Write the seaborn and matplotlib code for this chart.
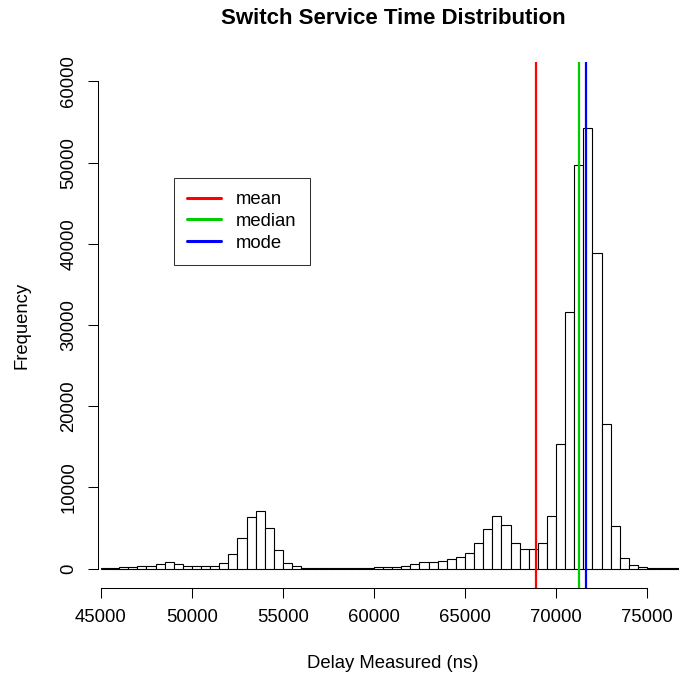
import numpy as np
import pandas as pd
import matplotlib
matplotlib.use("Agg")
import matplotlib.pyplot as plt
import seaborn as sns

# histogram counts per 500 ns bin, first bin starts at 45000 ns
bin_start = 45000
bin_width = 500
counts = [60, 120, 150, 200, 250, 330, 570, 780, 610, 370,
          330, 330, 370, 740, 1780, 3760, 6370, 7090, 4990, 2240,
          720, 250, 120, 100, 90, 90, 100, 100, 110, 120,
          130, 150, 200, 350, 580, 780, 780, 985, 1150, 1400,
          1970, 3200, 4850, 6450, 5380, 3160, 2380, 2380, 3120, 6530,
          15360, 31600, 49650, 54330, 38850, 17800, 5230, 1290, 400, 180,
          100, 70, 50, 40]

stat_names = ["mean", "median", "mode"]
stat_values = [68885, 71265, 71665]
stat_colors = ["#FF0000", "#00CD00", "#0000FF"]

x_ticks = [45000, 50000, 55000, 60000, 65000, 70000, 75000]
y_ticks = [0, 10000, 20000, 30000, 40000, 50000, 60000]

edges = bin_start + bin_width * np.arange(len(counts) + 1)
df = pd.DataFrame({"delay": edges[:-1] + bin_width / 2, "n": counts})

sns.set_style("white")
plt.rcParams["font.family"] = ["Liberation Sans", "DejaVu Sans"]
plt.rcParams["text.color"] = "black"
plt.rcParams["axes.labelcolor"] = "black"

W, H = 679, 677
fig = plt.figure(figsize=(W / 100, H / 100), dpi=100)
left_px, right_px, top_px, bottom_px = 98.3, 679, 62, 588
ax = fig.add_axes([left_px / W, 1 - bottom_px / H,
                   (right_px - left_px) / W, (bottom_px - top_px) / H])

sns.histplot(data=df, x="delay", weights="n", bins=[float(e) for e in edges],
             ax=ax, color="white", edgecolor="black", linewidth=0.8, alpha=1)

for name, val, col in zip(stat_names, stat_values, stat_colors):
    ax.axvline(val, color=col, linewidth=1.6, label=name)

ax.set_xlim(44852, 76758)
ax.set_ylim(-2400, 62400)

for s in ["top", "right"]:
    ax.spines[s].set_visible(False)
ax.spines["bottom"].set_bounds(x_ticks[0], x_ticks[-1])
ax.spines["left"].set_bounds(y_ticks[0], y_ticks[-1])
for s in ["bottom", "left"]:
    ax.spines[s].set_color("black")
    ax.spines[s].set_linewidth(0.75)

ax.set_xticks(x_ticks)
ax.set_yticks(y_ticks)
ax.set_xticklabels([str(t) for t in x_ticks])
ax.set_yticklabels([str(t) for t in y_ticks], rotation=90, va="center")
ax.tick_params(axis="both", direction="out", length=7.2, width=0.75,
               labelsize=13.3, colors="black", bottom=True, left=True)
ax.tick_params(axis="x", pad=8)
ax.tick_params(axis="y", pad=7.8)

ax.set_xlabel("Delay Measured (ns)", fontsize=13.3, va="center")
ax.set_ylabel("Frequency", fontsize=13.3, va="center")
ax.xaxis.set_label_coords((393 - left_px) / (right_px - left_px),
                          (bottom_px - 663) / (bottom_px - top_px))
ax.yaxis.set_label_coords((22 - left_px) / (right_px - left_px), 0.5)

fig.text(393 / W, 1 - 18 / H, "Switch Service Time Distribution",
         ha="center", va="center", fontsize=16, fontweight="bold")

leg = ax.legend(loc="upper left",
                bbox_to_anchor=((174 - left_px) / (right_px - left_px),
                                (bottom_px - 178) / (bottom_px - top_px)),
                borderaxespad=0, fontsize=13.3, frameon=True, fancybox=False,
                handlelength=1.85, handletextpad=0.8, labelspacing=0.25,
                borderpad=0.72)
leg.get_frame().set_edgecolor("black")
leg.get_frame().set_linewidth(0.75)
for line in leg.get_lines():
    line.set_linewidth(2.2)

fig.savefig("out.png", dpi=100)
